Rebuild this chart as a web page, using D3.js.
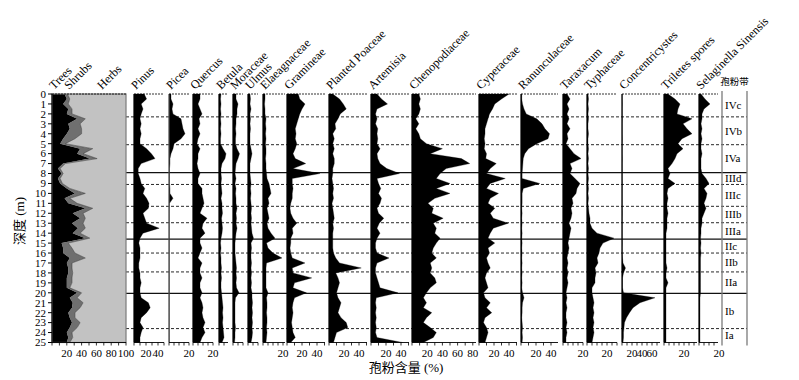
<!DOCTYPE html>
<html><head><meta charset="utf-8">
<script src="https://cdn.jsdelivr.net/npm/d3@7"></script>
<style>body{margin:0;background:#fff}svg{display:block}</style>
</head><body>
<svg id="c" width="799" height="380"></svg>
<script>
// ---------------- DATA ----------------
const depths = [0,0.5,1,1.5,2,2.5,3,3.5,4,4.5,5,5.5,6,6.5,7,7.5,8,8.5,9,9.5,10,10.5,11,11.5,12,12.5,13,13.5,14,14.5,15,15.5,16,16.5,17,17.5,18,18.5,19,19.5,20,20.5,21,21.5,22,22.5,23,23.5,24,24.5,25];

const trees  = [17,20,15,22,20,34,22,24,20,15,11,38,34,51,15,8,13,8,11,20,31,17,22,45,28,38,27,35,28,45,13,15,15,24,20,22,22,20,20,20,34,24,28,27,22,24,27,24,20,22,20];
const shrubs = [4,4,7,5,7,11,16,16,20,16,7,17,8,10,3,3,2,3,3,4,14,7,12,10,14,7,15,10,10,6,9,12,16,21,7,5,6,7,7,4,6,10,14,11,9,7,11,10,7,6,4];
const herbs  = [79,76,78,73,73,55,62,60,60,69,82,45,58,39,82,89,85,89,86,76,55,76,66,45,58,55,58,55,62,49,78,73,69,55,73,73,72,73,73,76,60,66,58,62,69,69,62,66,73,72,76];

const pinus = [17,21,12,15,12,10,12,10,12,10,10,21,29,35,12,7,7,10,12,18,15,21,25,24,15,18,21,42,15,10,8,10,10,10,8,8,10,10,12,10,10,12,24,27,21,12,10,15,12,10,10];
const picea = [2,2,4,3,4,12,13,14,16,12,5,4,2,1,1,0.5,0.5,0.5,0.5,1,1,4,0.5,0.3,0.3,0.3,0.3,0.3,0.3,0.3,0.3,0.3,0.3,0.3,0.3,0.3,0.3,0.3,0.3,0.3,0.3,0.3,0.3,0.3,0.3,0.3,0.3,0.3,0.3,0.3,0.3];
const quercus = [7,7,5,7,9,6,7,5,7,5,4,7,5,5,4,5,7,5,5,9,9,10,11,9,7,14,10,9,12,7,7,9,7,5,9,7,7,9,7,7,9,7,9,10,9,10,12,10,12,9,7];
const betula = [2,1.5,2,1.5,2,1.5,2,1.5,2,1.5,1.5,4,7,6,3,2,2,2.5,2,2.5,3,2,3,3,3.5,2.5,3,3.5,3,2,1.5,2,1.5,2,2,2.5,2,2.5,2,2,2.5,3,3.5,4,3.5,4,3.5,4,4.5,5,3];
const moraceae = [3,3,5,4,4,3,3,2.5,3,2.5,2.5,4,6.5,5,3,2.5,2,3,2,3,2.5,3,3,4,3,3.5,3,4,3,2.5,2,2,2,2.5,3,3.5,3,3.5,3,3.5,6,2.5,2,2,2,2,2,2.5,2,2,1.5];
const ulmus = [2,2.5,2,3,2,2.5,2,2.5,2,2,2,3,4,3,2,2,2,2.5,3,2.5,3,2.5,3,3.5,3,3.5,3,3.5,4,5.5,3,3.5,3,3,3.5,3,3.5,3,3.5,3,4,4,4.5,4,4.5,4,4.5,4,4.5,4,3];
const elaeagnaceae = [2,2,1.5,2,2,3,2.5,3,2.5,3,2.5,3,3,2.5,3,3,3.5,4,6,7,8,5,6,4,5,6,4,5,8,12,3.5,5,10,19,3.5,3,3,3,3,3,5,3.5,4,4,3.5,4,4,3.5,4,3.5,3];
const gramineae = [15,17,24,20,17,15,13,11,12,11,13,11,8,11,25,8,44,7,7,8,7,7,5,4,5,8,13,7,8,5,5,4,5,7,24,7,8,33,10,8,26,10,8,7,8,7,6,7,8,11,5];
const plantedPoaceae = [5,14,19,23,15,12,8,9,5,7,5,7,5,7,7,5,5,4,5,6,5,6,4,5,6,7,5,6,5,5,5,5,6,9,14,43,9,12,14,12,10,12,16,14,12,16,23,25,10,8,6];
const artemisia = [8,14,22,8,6,8,6,9,8,9,8,12,8,9,12,21,38,8,10,13,10,14,12,8,10,17,11,8,12,8,6,6,8,24,8,6,6,8,10,12,36,7,6,7,6,7,6,7,6,8,42];
const chenopodiaceae = [9,11,9,11,9,5,9,5,9,11,19,40,24,65,76,45,37,32,50,32,50,30,21,28,26,41,28,32,30,37,32,28,26,32,24,26,24,30,32,24,19,15,19,15,26,19,15,24,32,28,15];
const cyperaceae = [40,30,21,18,14,12,10,8,8,7,8,7,10,9,23,15,10,35,15,10,26,15,12,21,15,19,39,19,15,12,21,12,14,10,12,15,10,8,10,12,6,8,15,10,17,8,6,10,12,10,8];
const ranunculaceae = [1,1,2,4,7,21,28,32,38,36,21,10,5,3,2.5,2,1.5,1.5,25,3,1.5,1.5,1.5,1,1.5,1,1.5,1,1.5,1,1.5,1,1.5,1,1.5,1,1.5,1,1.5,1,2,4,2,1.5,1.5,1,1.5,2,1.5,2,1.5];
const taraxacum = [4,7,4,6,4,6,4,7,4,5,3,7,11,18,7,9,7,12,17,14,13,9,10,8,9,8,6,8,7,6,5,6,5,4,5,4,5,4,5,4,3,4,3,4,3,3,4,3,4,3,3];
const typhaceae = [1,1.5,1,1.5,1,1.5,1,1,1.5,1,1,1.5,1,1.5,1,1.5,1,1.5,1,1.5,1,1.5,1,1.5,2,3,3,5,10,27,16,13,12,10,11,8,9,8,8,5,5,6,7,6,7,6,7,6,7,6,5];
const concentricystes = [0.4,0.4,0.6,0.4,0.4,0.6,0.4,0.4,0.4,0.6,0.4,0.4,0.4,0.6,0.4,0.4,0.4,0.4,0.6,0.4,0.4,0.4,0.4,0.4,0.6,0.4,0.4,0.4,0.4,0.4,0.6,0.4,0.4,1,2,7,3,1,1,1,3,66,36,22,15,9,5,4,3,3,2];
const triletes = [4,11,16,14,13,28,19,23,28,18,14,19,13,11,8,4,6,4,11,4,3,4,3,3,4,3,3,3,2,2,2,2,2,2,2,3,2,2,4,2,2,2,2,2,2,2,2,2,2,2,2];
const selaginella = [2,6,11,5,3,3,2,3,2,3,2,2,3,2,2,2,3,7,10,5,8,7,5,7,5,3,3,2,2,1.5,2,1.5,2,1.5,1.5,1.5,1.5,1.5,1.5,1.5,1.5,1,1,1,1,1,1,1,1,1,1];

const taxonNames = ["Pinus","Picea","Quercus","Betula","Moraceae","Ulmus","Elaeagnaceae","Gramineae","Planted Poaceae","Artemisia","Chenopodiaceae","Cyperaceae","Ranunculaceae","Taraxacum","Typhaceae","Concentricystes","Triletes spores","Selaginella Sinensis"];
const taxonValues = [pinus,picea,quercus,betula,moraceae,ulmus,elaeagnaceae,gramineae,plantedPoaceae,artemisia,chenopodiaceae,cyperaceae,ranunculaceae,taraxacum,typhaceae,concentricystes,triletes,selaginella];
const summaryNames = ["Trees","Shrubs","Herbs"];
const summaryTickLabels = [20,40,60,80,100];
const taxonTickLabels = [[20,40],[20],[20],[],[],[],[20],[20,40],[20,40],[20,40],[20,40,60,80],[20,40],[20,40],[20],[20],[20,40,60],[20],[20]];
const depthTicks = [0,1,2,3,4,5,6,7,8,9,10,11,12,13,14,15,16,17,18,19,20,21,22,23,24,25];
const zoneNames = ["IVc","IVb","IVa","IIId","IIIc","IIIb","IIIa","IIc","IIb","IIa","Ib","Ia"];
const zoneBounds = [0,2.3,5.1,7.9,9.1,11.3,12.95,14.6,16.0,17.9,20.05,23.6,25];
const majorBounds = [7.9,14.6,20.05];

// ---------------- LAYOUT ----------------
const layout = [
  {x0:134,x1:164,px:0.6},{x0:169,x1:189,px:1},{x0:193,x1:213,px:1},{x0:219,x1:228,px:1},
  {x0:233,x1:243,px:1},{x0:248,x1:258,px:1},{x0:263,x1:285,px:1},{x0:287,x1:325,px:0.75},
  {x0:329,x1:367,px:0.75},{x0:371,x1:409,px:0.75},{x0:412,x1:476,px:0.76},{x0:479,x1:517,px:0.75},
  {x0:521,x1:558,px:0.75},{x0:563,x1:583,px:1},{x0:587,x1:617,px:1},{x0:622,x1:660,px:0.5},
  {x0:664,x1:697,px:1},{x0:699,x1:718,px:1}
];
const SUM = {x0:52,x1:126};
const ZONE = {x0:722,x1:747};
const Y0 = 94, Y1 = 342.5;
const serif = "'Liberation Serif','Times New Roman','Noto Sans CJK SC',serif";

const svg = d3.select("#c");
const y = d3.scaleLinear().domain([0,25]).range([Y0,Y1]);

// zone lines (under the curves)
zoneBounds.slice(1,-1).forEach(b => {
  const major = majorBounds.includes(b);
  svg.append("line").attr("x1",SUM.x1).attr("x2",ZONE.x1)
    .attr("y1",y(b)).attr("y2",y(b))
    .attr("stroke","#111").attr("stroke-width",major?1.3:0.9)
    .attr("stroke-dasharray",major?null:"3,2");
});

function topAxis(x0, x1) {
  svg.append("line").attr("x1",x0).attr("x2",x1).attr("y1",Y0).attr("y2",Y0)
    .attr("stroke","#000").attr("stroke-width",0.8).attr("stroke-dasharray","2,1");
}
function bottomAxis(x, tickStep, labels) {
  const [a,b] = x.domain();
  const [r0,r1] = x.range();
  svg.append("line").attr("x1",r0).attr("x2",r1).attr("y1",Y1).attr("y2",Y1)
    .attr("stroke","#000").attr("stroke-width",0.9);
  d3.range(a, b+1e-6, tickStep).forEach(v => {
    svg.append("line").attr("x1",x(v)).attr("x2",x(v)).attr("y1",Y1).attr("y2",Y1+3)
      .attr("stroke","#000").attr("stroke-width",0.8);
  });
  labels.forEach(v => {
    svg.append("text").attr("x",x(v)).attr("y",357).attr("text-anchor","middle")
      .attr("font-family",serif).attr("font-size",11).text(v);
  });
}

// ---------- summary panel ----------
const xs = d3.scaleLinear().domain([0,100]).range([SUM.x0,SUM.x1]);
const sumRows = depths.map((d,i)=>({depth:d, Trees:trees[i], Shrubs:shrubs[i], Herbs:herbs[i]}));
const stacked = d3.stack().keys(summaryNames)(sumRows);
const sumColors = {Trees:"#000", Shrubs:"#6f6f6f", Herbs:"#c2c2c2"};
const sArea = d3.area().y(d=>y(d.data.depth)).x0(d=>xs(d[0])).x1(d=>xs(d[1]));
svg.append("rect").attr("x",SUM.x0).attr("y",Y0).attr("width",SUM.x1-SUM.x0).attr("height",Y1-Y0).attr("fill","#c2c2c2");
stacked.forEach(s => svg.append("path").attr("d",sArea(s)).attr("fill",sumColors[s.key]));
svg.append("path").attr("d", d3.line().x(d=>xs(d[1])).y(d=>y(d.data.depth))(stacked[1]))
  .attr("fill","none").attr("stroke","#333").attr("stroke-width",0.5);
svg.append("rect").attr("x",SUM.x0).attr("y",Y0).attr("width",SUM.x1-SUM.x0).attr("height",Y1-Y0)
  .attr("fill","none").attr("stroke","#7a7a7a").attr("stroke-width",1.2);
svg.append("line").attr("x1",SUM.x0).attr("x2",SUM.x0).attr("y1",Y0).attr("y2",Y1).attr("stroke","#000").attr("stroke-width",1);
topAxis(SUM.x0, SUM.x1);
bottomAxis(xs, 10, summaryTickLabels);
const sumLabelX = [54,69,102];
summaryNames.forEach((n,i) => {
  svg.append("text").attr("transform",`translate(${sumLabelX[i]},90) rotate(-45)`)
    .attr("font-family",serif).attr("font-size",12).text(n);
});

// ---------- depth axis ----------
depthTicks.forEach(d => {
  svg.append("line").attr("x1",SUM.x0-4).attr("x2",SUM.x0).attr("y1",y(d)).attr("y2",y(d)).attr("stroke","#000");
  svg.append("text").attr("x",46).attr("y",y(d)).attr("dy","0.35em").attr("text-anchor","end")
    .attr("font-family",serif).attr("font-size",11).text(d);
});
svg.append("text").attr("transform","translate(24,221) rotate(-90)").attr("text-anchor","middle")
  .attr("font-family",serif).attr("font-size",13).text("深度 (m)");

// ---------- taxon panels ----------
taxonValues.forEach((vals,k) => {
  const L = layout[k];
  const x = d3.scaleLinear().domain([0,(L.x1-L.x0)/L.px]).range([L.x0,L.x1]);
  const area = d3.area().y((v,i)=>y(depths[i])).x0(x(0)).x1(v=>x(v));
  svg.append("path").datum(vals).attr("d",area).attr("fill","#000").attr("stroke","#000").attr("stroke-width",0.3);
  svg.append("line").attr("x1",L.x0).attr("x2",L.x0).attr("y1",Y0).attr("y2",Y1)
    .attr("stroke", k===1 ? "#555" : "#000").attr("stroke-width",1.1);
  topAxis(L.x0, L.x1);
  bottomAxis(x, L.px >= 1 ? 5 : 10, taxonTickLabels[k]);
  svg.append("text").attr("transform",`translate(${L.x0+2},90) rotate(-45)`)
    .attr("font-family",serif).attr("font-size",12).text(taxonNames[k]);
});

// ---------- zone column ----------
[ZONE.x0, ZONE.x1].forEach(xv => {
  svg.append("line").attr("x1",xv).attr("x2",xv).attr("y1",Y0-3).attr("y2",Y1+3)
    .attr("stroke","#7a7a7a").attr("stroke-width",1.3);
});
zoneNames.forEach((z,i) => {
  svg.append("text").attr("x",ZONE.x0+3).attr("y",(y(zoneBounds[i])+y(zoneBounds[i+1]))/2)
    .attr("dy","0.35em").attr("font-family",serif).attr("font-size",11).text(z);
});
svg.append("text").attr("x",(ZONE.x0+ZONE.x1)/2).attr("y",85).attr("text-anchor","middle")
  .attr("font-family",serif).attr("font-size",9.5).text("孢粉带");

// ---------- x title ----------
svg.append("text").attr("x",406).attr("y",372).attr("text-anchor","middle")
  .attr("font-family",serif).attr("font-size",13).text("孢粉含量 (%)");
</script>
</body></html>
